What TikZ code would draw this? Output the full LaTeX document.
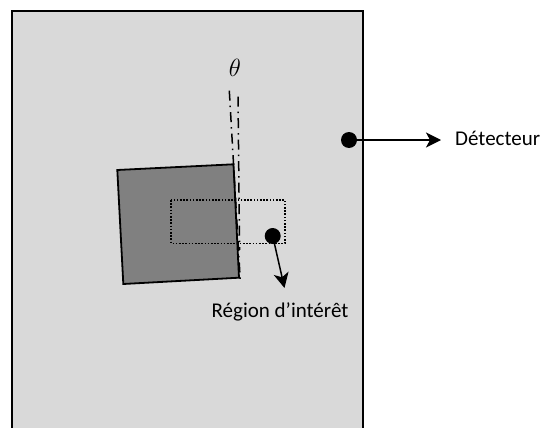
\documentclass[tikz,border=0pt]{standalone}
\usepackage{fontspec}
\setmainfont{Carlito}
\usetikzlibrary{arrows.meta}
\tikzset{
  detector/.style={draw=black,line width=1.8pt,fill=panelgray},
  sample/.style={draw=black,line width=1.8pt,fill=samplegray},
  roi/.style={draw=black,line width=1.6pt,dash pattern=on 1.6pt off 1.6pt},
  axisline/.style={draw=black,line width=1.5pt,dash pattern=on 10pt off 5pt on 1.5pt off 5pt},
  bullet/.style={circle,fill=black,inner sep=0pt,minimum size=16pt},
  pointer/.style={draw=black,line width=1.5pt,-{Stealth[length=15pt,width=15pt,inset=4pt]}},
  lab/.style={font=\fontsize{21}{25}\selectfont,text=black,inner sep=0pt}
}
\definecolor{panelgray}{HTML}{D9D9D9}
\definecolor{samplegray}{HTML}{808080}
\begin{document}
\begin{tikzpicture}[x=1pt,y=-1pt]
\useasboundingbox (0,0) rectangle (541,428);
\begin{scope}
\clip (0,0) rectangle (541,428);
\path[detector] (12,11) rectangle (363,440);
\end{scope}
\path[sample] (117.3,170) -- (233.5,164.3) -- (239,277.7) -- (123.3,284) -- cycle;
\path[roi] (171,200) rectangle (285,243.3);
\coordinate (a1) at (229.3,90.7);
\coordinate (a2) at (240.3,281);
\coordinate (b1) at (238,96.7);
\coordinate (b2) at (239.6,250);
\path[axisline] (a1) -- (a2);
\path[axisline] (b1) -- (b2);
\node[bullet] (d1) at (349,140) {};
\coordinate (d2) at (441,140);
\draw[pointer] (d1.center) -- (d2);
\node[lab,anchor=west] (dl) at (455,138) {Détecteur};
\node[bullet] (r1) at (272.7,236) {};
\coordinate (r2) at (284.5,288);
\draw[pointer] (r1.center) -- (r2);
\node[lab,anchor=center] (rl) at (280,312) {Région d’intérêt};
\node[font=\fontsize{28}{32}\selectfont,inner sep=0pt] (th) at (235,68) {$\theta$};
\end{tikzpicture}
\end{document}
